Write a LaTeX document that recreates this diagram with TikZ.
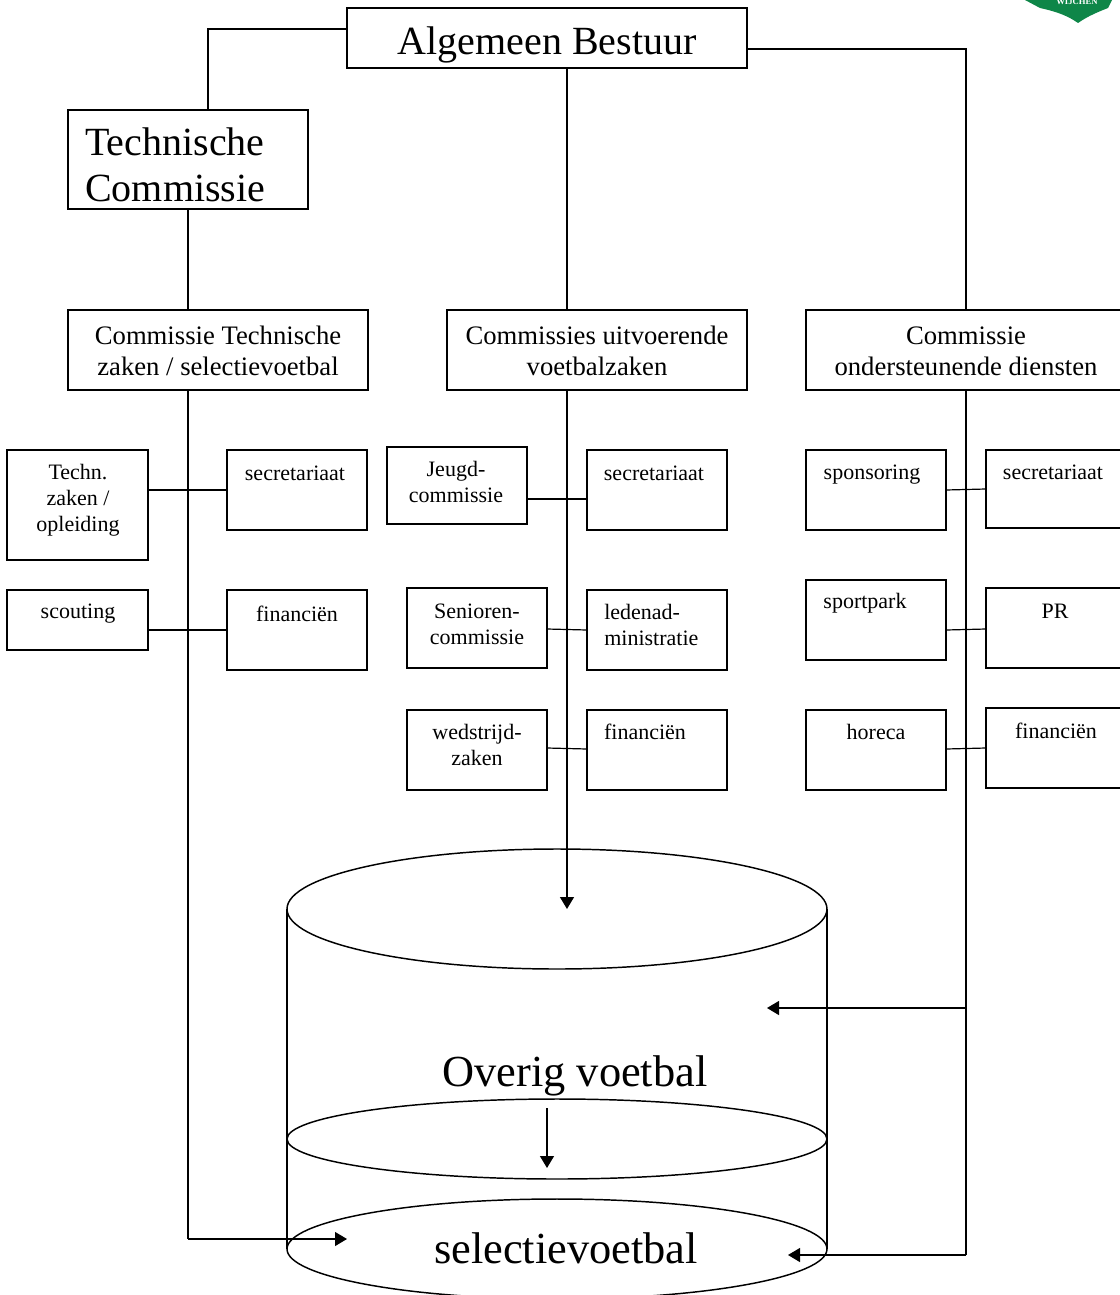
\documentclass[tikz,border=0pt]{standalone}
\usepackage{fontspec}
\setmainfont{Liberation Serif}
\usetikzlibrary{arrows.meta}
\newcommand{\bx}[5]{\node[boxn,minimum width=#4*0.75pt-#2*0.75pt,minimum height=#5*0.75pt-#3*0.75pt] (#1) at ({(#2+#4)/2},{(#3+#5)/2}) {};}
\tikzset{
  x=0.75pt,y=-0.75pt,
  boxn/.style={draw=black,line width=0.9pt,inner sep=0pt,outer sep=0pt},
  conn/.style={draw=black,line width=0.9pt},
  arr/.style={conn,-{Triangle[length=9pt,width=10.5pt]}},
  lbl/.style={inner sep=0pt,align=center,font=\fontsize{16.5}{19.5}\selectfont,text=black},
  mid/.style={lbl,font=\fontsize{20}{23}\selectfont},
  big/.style={lbl,font=\fontsize{30}{34.5}\selectfont},
  bigger/.style={lbl,font=\fontsize{33.3}{38}\selectfont},
  tank/.style={draw=black,line width=1.1pt}
}
\begin{document}
\begin{tikzpicture}
\useasboundingbox (0,0) rectangle (1120,1295);
\definecolor{logogreen}{RGB}{14,134,72}
% logo
\fill[logogreen] (1025,0) -- (1040,8) .. controls (1058,12) and (1068,16) .. (1078,23) .. controls (1088,16) and (1098,12) .. (1108,8) -- (1112,0) -- cycle;
\node[inner sep=0pt,text=white,font=\fontsize{6.5}{7}\bfseries\selectfont] (logotext) at (1077,2) {WIJCHEN};
% boxes
\bx{ab}{347}{8}{747}{68}
\bx{tc}{68}{110}{308}{209}
\bx{cone}{68}{310}{368}{390}
\bx{ctwo}{447}{310}{747}{390}
\bx{cthree}{806}{310}{1126}{390}
\bx{techn}{7}{450}{148}{560}
\bx{secone}{227}{450}{367}{530}
\bx{scout}{7}{590}{148}{650}
\bx{finone}{227}{590}{367}{670}
\bx{jeugd}{387}{447}{527}{524}
\bx{sectwo}{587}{450}{727}{530}
\bx{senior}{407}{588}{547}{668}
\bx{leden}{587}{590}{727}{670}
\bx{wed}{407}{710}{547}{790}
\bx{fintwo}{587}{710}{727}{790}
\bx{spons}{806}{450}{946}{530}
\bx{secthree}{986}{450}{1126}{528}
\bx{park}{806}{580}{946}{660}
\bx{pr}{986}{588}{1126}{668}
\bx{hor}{806}{710}{946}{790}
\bx{finthree}{986}{708}{1126}{788}
% labels
\node[big] (tabl) at (547,45) {Algemeen Bestuur};
\node[big,align=left,anchor=west] (ttcl) at (85,165) {Technische\\Commissie};
\node[mid] (tcone) at (218,351) {Commissie Technische\\zaken / selectievoetbal};
\node[mid] (tctwo) at (597,351) {Commissies uitvoerende\\voetbalzaken};
\node[mid] (tcthree) at (966,351) {Commissie\\ondersteunende diensten};
\node[lbl] (l1) at (78,500) {Techn.\\zaken /\\opleiding};
\node[lbl] (l2) at (295,473) {secretariaat};
\node[lbl] (l3) at (78,614) {scouting};
\node[lbl] (l4) at (297,614) {financiën};
\node[lbl] (l5) at (456,482) {Jeugd-\\commissie};
\node[lbl] (l6) at (654,473) {secretariaat};
\node[lbl] (l7) at (477,624) {Senioren-\\commissie};
\node[lbl,align=left,anchor=west] (l8) at (604,625) {ledenad-\\ministratie};
\node[lbl] (l9) at (477,745) {wedstrijd-\\zaken};
\node[lbl] (l10) at (645,732) {financiën};
\node[lbl] (l11) at (872,475) {sponsoring};
\node[lbl] (l12) at (1053,472) {secretariaat};
\node[lbl] (l13) at (865,603) {sportpark};
\node[lbl] (l14) at (1055,611) {PR};
\node[lbl] (l15) at (876,732) {horeca};
\node[lbl] (l16) at (1056,731) {financiën};
% tank
\path (287,909) coordinate (tl) (827,909) coordinate (tr) (287,1249) coordinate (bl) (827,1249) coordinate (br);
\draw[tank] (557,909) ellipse [x radius=270,y radius=60];
\draw[tank] (557,1139) ellipse [x radius=270,y radius=40];
\draw[tank] (557,1249) ellipse [x radius=270,y radius=50];
\draw[conn] (tl) -- (bl);
\draw[conn] (tr) -- (br);
\node[bigger] (over) at (575,1076) {Overig voetbal};
\node[bigger] (sel) at (566,1248) {selectievoetbal};
% named junctions
\coordinate (ja) at (208,29);
\coordinate (jb) at (966,49);
\coordinate (jc) at (966,1008);
\coordinate (jd) at (966,1255);
\coordinate (je) at (188,1239);
\coordinate (ta) at (767,1008);
\coordinate (tb) at (788,1255);
\coordinate (tc') at (347,1239);
\coordinate (td) at (567,909);
\coordinate (me) at (547,1108);
\coordinate (mf) at (547,1168);
% connectors
\draw[conn] (ab.west |- ja) -- (ja) -- (ja |- tc.north);
\draw[conn] (ab.east |- jb) -- (jb) -- (jb |- cthree.north);
\draw[conn] (td |- ab.south) -- (td |- ctwo.north);
\draw[conn] (je |- tc.south) -- (je |- cone.north);
\draw[conn] (je |- cone.south) -- (je) ;
\draw[arr] (je) -- (tc');
\draw[arr] (td |- ctwo.south) -- (td);
\draw[conn] (jb |- cthree.south) -- (jd);
\draw[arr] (jc) -- (ta);
\draw[arr] (jd) -- (tb);
\draw[arr] (me) -- (mf);
\draw[conn] (techn.east |- 0,490) -- (secone.west |- 0,490);
\draw[conn] (scout.east |- 0,630) -- (finone.west |- 0,630);
\draw[conn] (jeugd.east |- 0,499) -- (sectwo.west |- 0,499);
\draw[conn] (senior.east |- 0,629) -- (leden.west |- 0,630);
\draw[conn] (wed.east |- 0,748) -- (fintwo.west |- 0,749);
\draw[conn] (spons.east |- 0,490) -- (secthree.west |- 0,489);
\draw[conn] (park.east |- 0,630) -- (pr.west |- 0,629);
\draw[conn] (hor.east |- 0,749) -- (finthree.west |- 0,748);
\end{tikzpicture}
\end{document}
